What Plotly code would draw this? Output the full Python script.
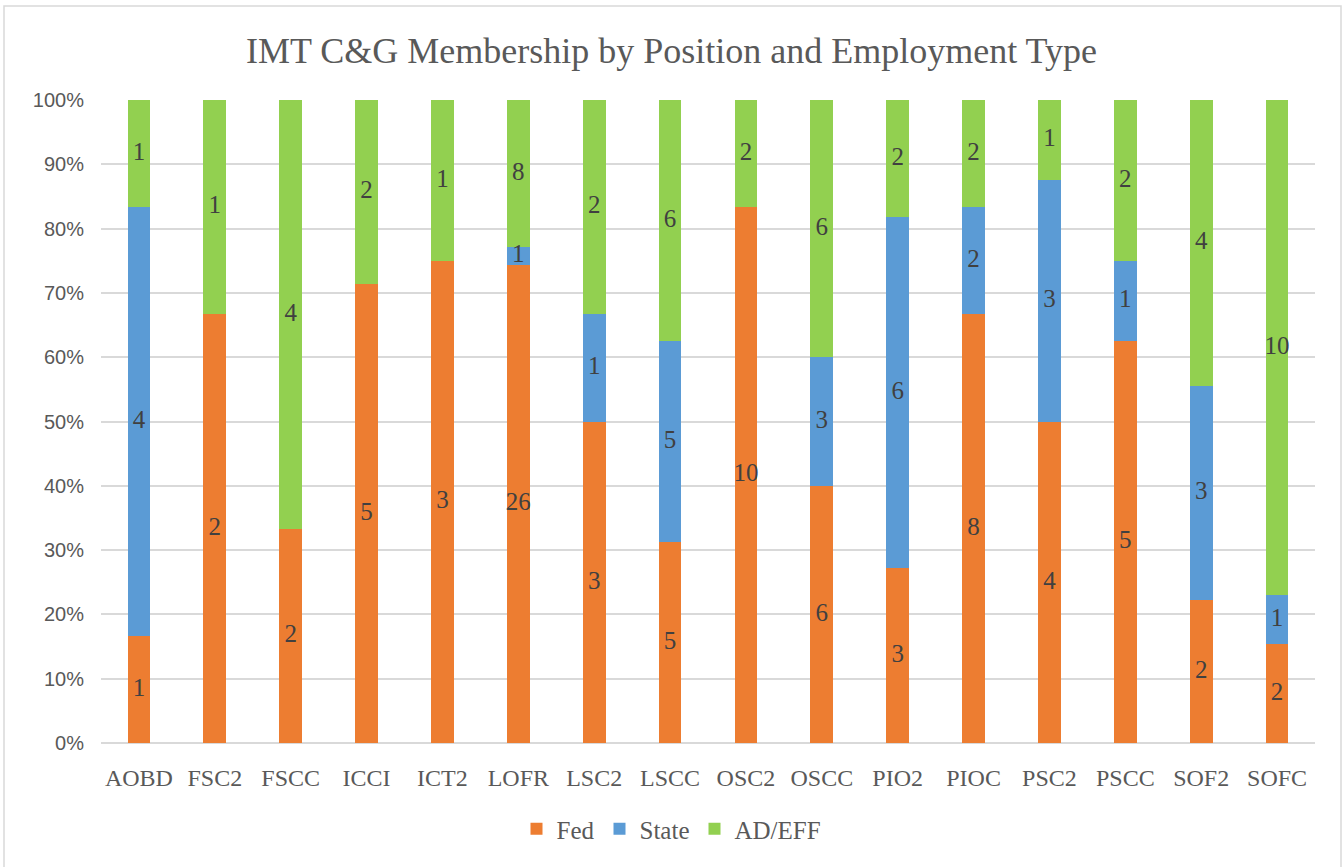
import plotly.graph_objects as go

categories = ["AOBD", "FSC2", "FSCC", "ICCI", "ICT2", "LOFR", "LSC2", "LSCC",
              "OSC2", "OSCC", "PIO2", "PIOC", "PSC2", "PSCC", "SOF2", "SOFC"]
fed = [1, 2, 2, 5, 3, 26, 3, 5, 10, 6, 3, 8, 4, 5, 2, 2]
state = [4, 0, 0, 0, 0, 1, 1, 5, 0, 3, 6, 2, 3, 1, 3, 1]
ad_eff = [1, 1, 4, 2, 1, 8, 2, 6, 2, 6, 2, 2, 1, 2, 4, 10]
y_ticks = [0, 10, 20, 30, 40, 50, 60, 70, 80, 90, 100]
y_tick_labels = ["0%", "10%", "20%", "30%", "40%", "50%", "60%", "70%", "80%", "90%", "100%"]

series = [("Fed", fed, "#ED7D31"), ("State", state, "#5B9BD5"), ("AD/EFF", ad_eff, "#92D050")]

SERIF = "Liberation Serif, Times New Roman, serif"
SANS = "Liberation Sans, Arial, sans-serif"

fig = go.Figure()
for name, vals, color in series:
    fig.add_trace(go.Bar(
        name=name, x=categories, y=vals,
        marker=dict(color=color, line=dict(width=0)),
    ))

# data labels centred in each stacked (percent-normalised) segment
totals = [a + b + c for a, b, c in zip(fed, state, ad_eff)]
base = [0.0] * len(categories)
for name, vals, color in series:
    xs, ys, ts = [], [], []
    for i, v in enumerate(vals):
        if v > 0:
            xs.append(categories[i])
            ys.append((base[i] + v / 2) / totals[i] * 100)
            ts.append(str(v))
        base[i] += v
    fig.add_trace(go.Scatter(
        x=xs, y=ys, text=ts, mode="text", showlegend=False, hoverinfo="skip",
        textposition="middle center", cliponaxis=False,
        textfont=dict(family=SERIF, size=25, color="#404040"),
    ))

W, H = 1343, 867
L, R, T, B = 101, 28, 100, 124
pw, ph = W - L - R, H - T - B

fig.update_layout(
    width=W, height=H,
    barmode="stack", barnorm="percent", bargap=0.7,
    margin=dict(l=L, r=R, t=T, b=B, autoexpand=False),
    paper_bgcolor="white", plot_bgcolor="white",
    title=dict(text="IMT C&G Membership by Position and Employment Type",
               x=0.5, xanchor="center", xref="container",
               y=1 - 50 / H, yanchor="middle", yref="container",
               font=dict(family=SERIF, size=36, color="#595959")),
    legend=dict(orientation="h", x=0.5, xanchor="center", xref="container",
                y=(743 - 829) / ph, yanchor="middle",
                font=dict(family=SERIF, size=25, color="#595959"),
                traceorder="normal"),
    xaxis=dict(type="category", categoryorder="array", categoryarray=categories,
               range=[-0.5, len(categories) - 0.5],
               showgrid=False, showline=False, ticks="", ticklabelstandoff=18,
               automargin=False,
               tickfont=dict(family=SERIF, size=24, color="#595959")),
    yaxis=dict(range=[0, 100], tickmode="array", tickvals=y_ticks, ticktext=y_tick_labels,
               showgrid=True, gridcolor="#D9D9D9", gridwidth=1.5,
               zeroline=True, zerolinecolor="#D9D9D9", zerolinewidth=1.5,
               showline=False, ticks="", ticklabelstandoff=16, automargin=False,
               tickfont=dict(family=SANS, size=20, color="#595959")),
    shapes=[dict(type="rect", xref="paper", yref="paper",
                 x0=(4 - L) / pw, x1=(1341 - L) / pw,
                 y0=(743 - 875) / ph, y1=(743 - 6) / ph,
                 line=dict(color="#D9D9D9", width=1.5), fillcolor="rgba(0,0,0,0)",
                 layer="below")],
)

fig.write_html(
    "out.html",
    config={"displayModeBar": False},
    post_script="document.body.style.margin='0px';document.body.style.overflow='hidden';",
)
